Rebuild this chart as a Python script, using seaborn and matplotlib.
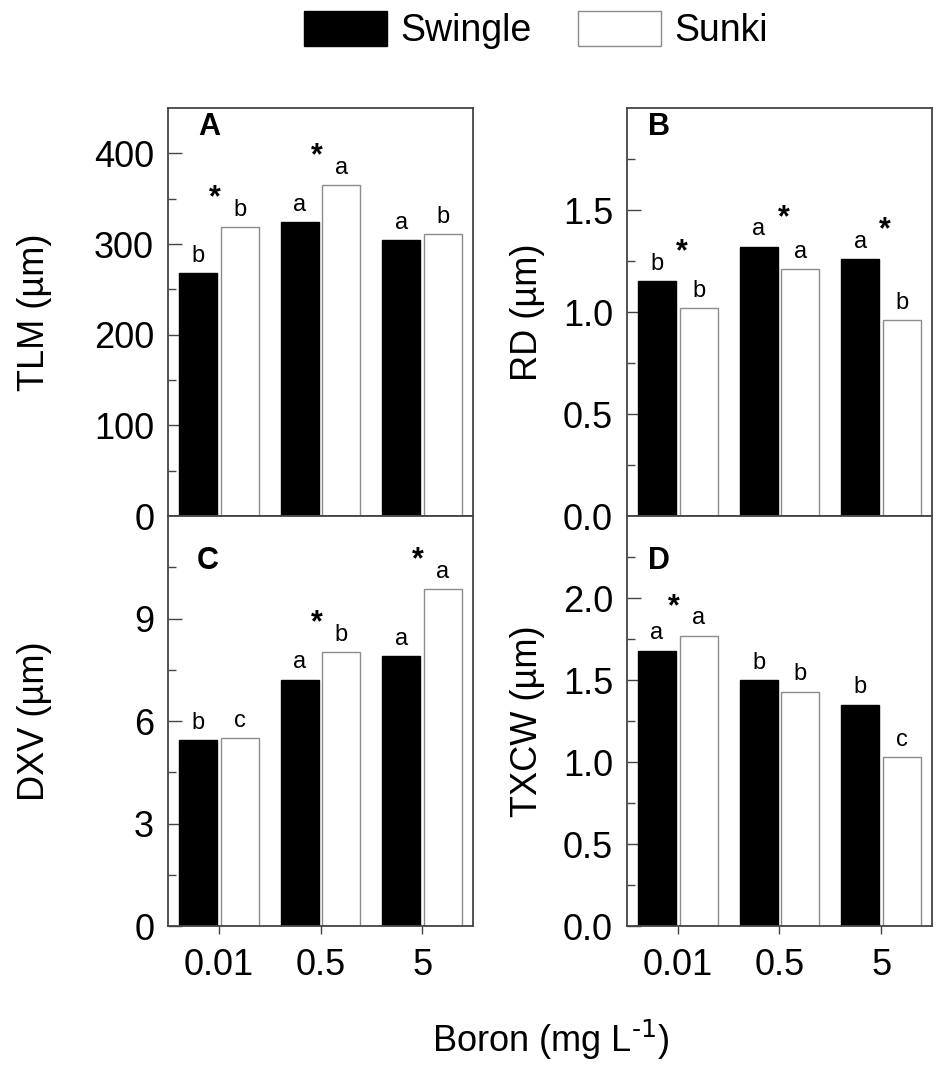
import pandas as pd
import seaborn as sns
import matplotlib.pyplot as plt
from matplotlib.patches import Patch
from matplotlib.ticker import FixedLocator

boron = ['0.01', '0.5', '5']
rootstocks = ['Swingle', 'Sunki']

tlm_swingle = [268, 324, 304]
tlm_sunki = [319, 365, 311]
rd_swingle = [1.15, 1.32, 1.26]
rd_sunki = [1.02, 1.21, 0.96]
dxv_swingle = [5.45, 7.21, 7.90]
dxv_sunki = [5.50, 8.01, 9.85]
txcw_swingle = [1.68, 1.50, 1.35]
txcw_sunki = [1.77, 1.43, 1.03]

# mean comparison letters: [swingle, sunki]
tlm_letters = [['b', 'a', 'a'], ['b', 'a', 'b']]
rd_letters = [['b', 'a', 'a'], ['b', 'a', 'b']]
dxv_letters = [['b', 'a', 'a'], ['c', 'b', 'a']]
txcw_letters = [['a', 'b', 'b'], ['a', 'b', 'c']]

# asterisk where the two rootstocks differ
tlm_star = [True, True, False]
rd_star = [True, True, True]
dxv_star = [False, True, True]
txcw_star = [True, False, False]

sns.set_style('white')
plt.rcParams['font.family'] = ['Liberation Sans', 'DejaVu Sans']
plt.rcParams['mathtext.default'] = 'regular'
plt.rcParams['text.color'] = 'black'
plt.rcParams['axes.labelcolor'] = 'black'
plt.rcParams['xtick.color'] = 'black'
plt.rcParams['ytick.color'] = 'black'

EDGE = '#444444'


def draw_panel(ax, tag, tag_xy, ylabel, ylab_x, swingle, sunki, letters, stars,
               ytop, yticks, yminor, bottom_row):
    df = pd.DataFrame({
        'boron': boron * 2,
        'rootstock': ['Swingle'] * 3 + ['Sunki'] * 3,
        'value': swingle + sunki,
    })
    sns.barplot(data=df, x='boron', y='value', hue='rootstock', order=boron,
                hue_order=rootstocks, palette={'Swingle': 'black', 'Sunki': 'white'},
                width=0.82, gap=0.09, errorbar=None, legend=False, saturation=1,
                linewidth=1.0, ax=ax)

    for cont, ec in zip(ax.containers, ['black', '#8c8c8c']):
        for bar in cont:
            bar.set_edgecolor(ec)

    # letters over each bar
    for cont, labs in zip(ax.containers, letters):
        for bar, lab in zip(cont, labs):
            ax.annotate(lab, (bar.get_x() + bar.get_width() / 2, bar.get_height()),
                        xytext=(0, 4.5), textcoords='offset points',
                        ha='center', va='bottom', fontsize=17)

    # asterisks between the bars
    for i, s in enumerate(stars):
        if s:
            top = max(swingle[i], sunki[i])
            shift = -0.04 if sunki[i] > swingle[i] else 0.04
            ax.annotate('*', (i + shift, top), xytext=(0, 15), textcoords='offset points',
                        ha='center', va='baseline', fontsize=22, fontweight='bold')

    ax.set_xlim(-0.5, 2.5)
    ax.set_ylim(0, ytop)
    ax.yaxis.set_major_locator(FixedLocator(yticks))
    ax.yaxis.set_minor_locator(FixedLocator(yminor))
    ax.set_xlabel('')
    ax.set_ylabel(ylabel, fontsize=26)
    ax.yaxis.set_label_coords(ylab_x, 0.5)

    for sp in ax.spines.values():
        sp.set_color(EDGE)
        sp.set_linewidth(1.3)

    ax.tick_params(axis='y', which='major', direction='in', length=10, width=1,
                   color=EDGE, labelcolor='black', labelsize=26, pad=10, left=True)
    ax.tick_params(axis='y', which='minor', direction='in', length=6, width=1,
                   color=EDGE, left=True)
    if bottom_row:
        ax.tick_params(axis='x', direction='out', length=6, width=1, color=EDGE,
                       labelcolor='black', labelsize=26, pad=10, bottom=True)
    else:
        ax.tick_params(axis='x', bottom=False, labelbottom=False)

    ax.text(tag_xy[0], tag_xy[1], tag, transform=ax.transAxes, fontsize=22,
            fontweight='bold', va='top', ha='left')


fig = plt.figure(figsize=(9.52, 10.78), dpi=100)
ax_a = fig.add_axes([0.1765, 0.5213, 0.3204, 0.3785])
ax_b = fig.add_axes([0.6586, 0.5213, 0.3204, 0.3785])
ax_c = fig.add_axes([0.1765, 0.1410, 0.3204, 0.3803])
ax_d = fig.add_axes([0.6586, 0.1410, 0.3204, 0.3803])

draw_panel(ax_a, 'A', (0.10, 0.99), 'TLM (µm)', -0.38, tlm_swingle, tlm_sunki,
           tlm_letters, tlm_star, 450, [0, 100, 200, 300, 400],
           [50, 150, 250, 350], False)
draw_panel(ax_b, 'B', (0.068, 0.99), 'RD (µm)', -0.27, rd_swingle, rd_sunki,
           rd_letters, rd_star, 2.0, [0.0, 0.5, 1.0, 1.5],
           [0.25, 0.75, 1.25, 1.75], False)
draw_panel(ax_c, 'C', (0.095, 0.927), 'DXV (µm)', -0.38, dxv_swingle, dxv_sunki,
           dxv_letters, dxv_star, 12, [0, 3, 6, 9],
           [1.5, 4.5, 7.5, 10.5], True)
draw_panel(ax_d, 'D', (0.068, 0.927), 'TXCW (µm)', -0.27, txcw_swingle, txcw_sunki,
           txcw_letters, txcw_star, 2.5, [0.0, 0.5, 1.0, 1.5, 2.0],
           [0.25, 0.75, 1.25, 1.75, 2.25], True)

ax_b.set_yticklabels(['0.0', '0.5', '1.0', '1.5'])
ax_d.set_yticklabels(['0.0', '0.5', '1.0', '1.5', '2.0'])

handles = [Patch(facecolor='black', edgecolor='black', label='Swingle'),
           Patch(facecolor='white', edgecolor='#8c8c8c', label='Sunki')]
fig.legend(handles=handles, loc='center', bbox_to_anchor=(0.563, 0.972), ncol=2,
           frameon=False, fontsize=27, handlelength=2.2, handleheight=1.07,
           handletextpad=0.35, columnspacing=1.26, labelcolor='black')

fig.text(0.578, 0.035, r'Boron (mg L$^{\text{-1}}$)', ha='center', va='center',
         fontsize=26, color='black')

fig.savefig('out.png', dpi=100)
